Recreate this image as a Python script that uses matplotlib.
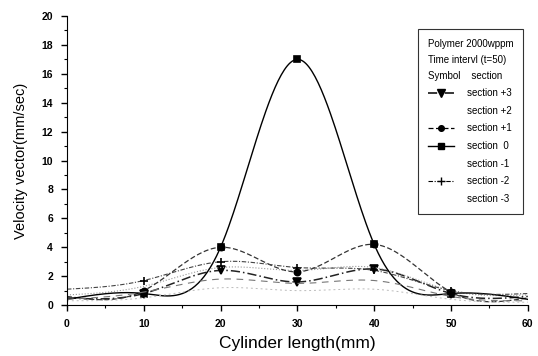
import matplotlib.pyplot as plt
import numpy as np
from matplotlib.lines import Line2D

plt.rcParams['font.family'] = ['Liberation Sans', 'DejaVu Sans']

# cylinder positions (mm)
length = [0, 10, 20, 30, 40, 50, 60]

# velocity vectors (mm/sec) per section
sec_p3 = [0.5, 0.8, 2.4, 1.6, 2.5, 0.8, 0.6]
sec_p2 = [0.7, 1.3, 2.6, 2.4, 2.6, 1.0, 0.7]
sec_p1 = [0.6, 1.0, 4.0, 2.3, 4.2, 0.9, 0.5]
sec_0 = [0.4, 0.8, 4.0, 17.0, 4.2, 0.8, 0.4]
sec_m1 = [0.4, 0.9, 1.8, 1.5, 1.7, 0.6, 0.3]
sec_m2 = [1.1, 1.7, 3.0, 2.6, 2.4, 1.0, 0.8]
sec_m3 = [0.3, 0.5, 1.2, 1.0, 1.1, 0.4, 0.2]

legend_head = "Polymer 2000wppm\nTime intervl (t=50)\nSymbol    section"


# natural cubic spline, only used to draw a smooth line through the points
def smooth(x, y, n=300):
    x = np.asarray(x, float)
    y = np.asarray(y, float)
    k = len(x)
    h = np.diff(x)
    A = np.zeros((k, k))
    b = np.zeros(k)
    A[0, 0] = A[-1, -1] = 1
    for i in range(1, k - 1):
        A[i, i - 1] = h[i - 1]
        A[i, i] = 2 * (h[i - 1] + h[i])
        A[i, i + 1] = h[i]
        b[i] = 3 * ((y[i + 1] - y[i]) / h[i] - (y[i] - y[i - 1]) / h[i - 1])
    c = np.linalg.solve(A, b)
    xs = np.linspace(x[0], x[-1], n)
    idx = np.clip(np.searchsorted(x, xs) - 1, 0, k - 2)
    dx = xs - x[idx]
    bb = (y[idx + 1] - y[idx]) / h[idx] - h[idx] * (2 * c[idx] + c[idx + 1]) / 3
    d = (c[idx + 1] - c[idx]) / (3 * h[idx])
    ys = y[idx] + bb * dx + c[idx] * dx ** 2 + d * dx ** 3
    return xs, ys


fig = plt.figure(figsize=(5.38, 3.56), dpi=100)
ax = fig.add_axes([0.1245, 0.143, 0.8565, 0.812])

series = [
    ('section +3', sec_p3, dict(color='#222222', ls=(0, (6, 2, 1, 2)), lw=1.1), dict(marker='v', ms=6)),
    ('section +2', sec_p2, dict(color='#999999', ls=':', lw=0.8), dict(marker='', ms=0)),
    ('section +1', sec_p1, dict(color='#333333', ls=(0, (4, 2)), lw=0.9), dict(marker='o', ms=4.5)),
    ('section  0', sec_0, dict(color='black', ls='-', lw=1.0), dict(marker='s', ms=5)),
    ('section -1', sec_m1, dict(color='#777777', ls=(0, (6, 5)), lw=0.8), dict(marker='', ms=0)),
    ('section -2', sec_m2, dict(color='#444444', ls=(0, (4, 1.5, 1, 1.5)), lw=0.8), dict(marker='+', ms=6)),
    ('section -3', sec_m3, dict(color='#bbbbbb', ls=(0, (2, 3)), lw=0.7), dict(marker='', ms=0)),
]

handles = []
for label, vals, lstyle, mstyle in series:
    xs, ys = smooth(length, vals)
    ax.plot(xs, ys, **lstyle)
    if mstyle['marker']:
        ax.plot(length[1:-1], vals[1:-1], ls='none', marker=mstyle['marker'],
                ms=mstyle['ms'], color='black', mew=1.2)
    h = Line2D([], [], marker=mstyle['marker'], ms=mstyle['ms'] * 0.9, mew=1.0,
               color=lstyle['color'] if mstyle['marker'] else 'white', ls=lstyle['ls'],
               lw=lstyle['lw'])
    if mstyle['marker']:
        h.set_color('black')
    handles.append(h)

ax.set_xlim(0, 60)
ax.set_ylim(0, 20)
ax.set_xticks(range(0, 61, 10))
ax.set_xticks(range(5, 60, 10), minor=True)
ax.set_yticks(range(0, 21, 2))
ax.set_yticks(range(1, 20, 2), minor=True)
ax.spines['top'].set_visible(False)
ax.spines['right'].set_visible(False)
ax.tick_params(which='major', direction='out', length=4, width=1, labelsize=7.5)
ax.tick_params(axis='x', which='major', pad=6)
ax.tick_params(axis='y', which='major', pad=6)
ax.tick_params(which='minor', direction='out', length=2.5, width=0.8)
for t in ax.get_xticklabels() + ax.get_yticklabels():
    t.set_fontweight('bold')

ax.set_xlabel('Cylinder length(mm)', fontsize=12.5, labelpad=5)
ax.set_ylabel('Velocity vector(mm/sec)', fontsize=10.5, labelpad=10)

leg = ax.legend(handles, [s[0] for s in series], title=legend_head,
                loc='upper right', bbox_to_anchor=(1.0, 0.972), fontsize=7,
                title_fontsize=7, handlelength=2.7, handletextpad=1.4,
                labelspacing=0.78, borderpad=1.0, frameon=True, fancybox=False,
                edgecolor='black', alignment='left')
leg.get_frame().set_linewidth(0.8)
leg.get_title().set_linespacing(1.75)

fig.savefig('out.png', dpi=100)
